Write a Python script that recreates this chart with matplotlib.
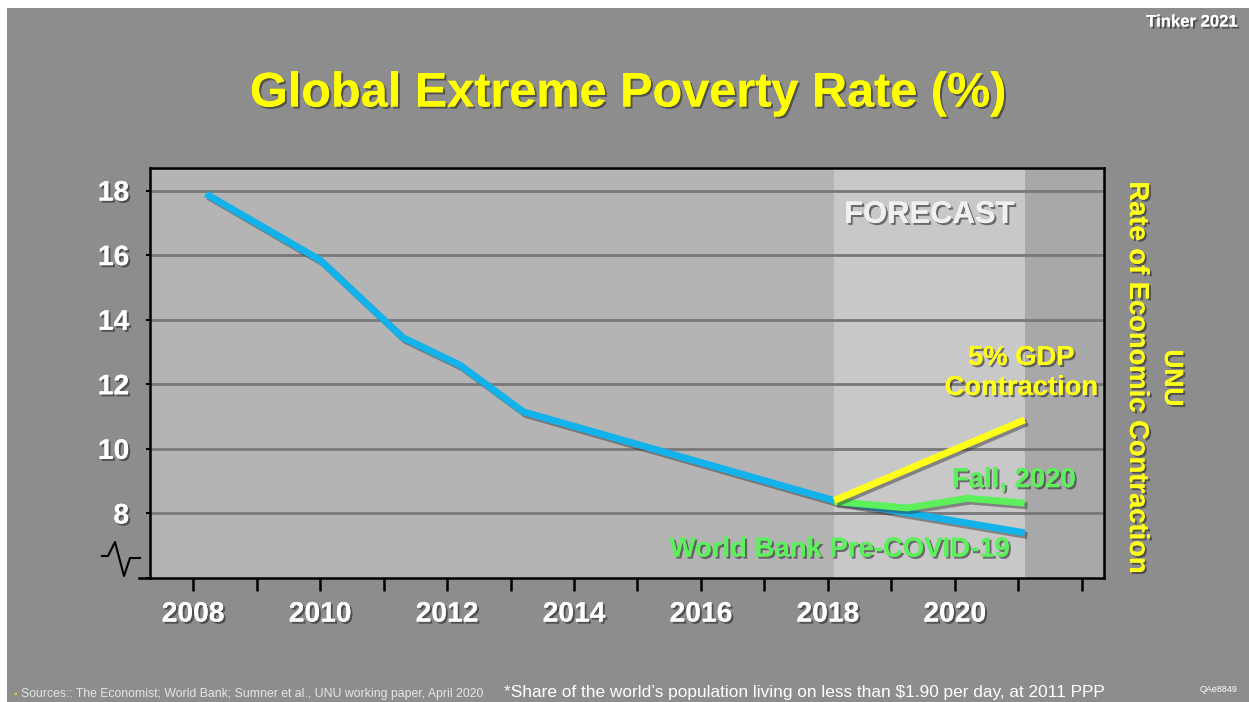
import matplotlib
matplotlib.use("Agg")
import matplotlib.pyplot as plt
import matplotlib.patheffects as pe
from matplotlib.patches import Rectangle

# ---- data ----
blue_years = [2008.2, 2010.0, 2011.3, 2012.2, 2013.2, 2018.1, 2021.1]
blue_vals = [17.9, 15.85, 13.45, 12.6, 11.15, 8.4, 7.4]
yellow_years = [2018.1, 2021.1]
yellow_vals = [8.4, 10.9]
green_years = [2018.1, 2019.25, 2020.2, 2021.1]
green_vals = [8.37, 8.17, 8.47, 8.32]
forecast_span = [2018.1, 2021.1]
xtick_labels = [2008, 2010, 2012, 2014, 2016, 2018, 2020]
ytick_labels = [8, 10, 12, 14, 16, 18]

W, H = 1249, 702
plt.rcParams['font.family'] = ['Liberation Sans', 'DejaVu Sans']
fig = plt.figure(figsize=(W / 100, H / 100), dpi=100, facecolor='white')

def fx(px):
    return px / W

def fy(py):
    return 1 - py / H

# slide background
fig.patches.append(Rectangle((fx(7), 0), 1 - fx(7), fy(8), transform=fig.transFigure,
                             facecolor='#8d8d8d', edgecolor='none', zorder=-10))

shadow_txt = [pe.withSimplePatchShadow(offset=(1.5, -1.5), shadow_rgbFace='#202020', alpha=0.55), pe.Normal()]
line_shadow = [pe.SimpleLineShadow(offset=(2, -2), shadow_color='#303030', alpha=0.45), pe.Normal()]

ax = fig.add_axes([fx(150), fy(578), fx(1104) - fx(150), fy(168) - fy(578)])
ax.set_zorder(1)
ax.set_facecolor('#b4b4b4')
ax.set_xlim(2007.32, 2022.35)
ax.set_ylim(6.0, 18.7)

ax.axvspan(forecast_span[0], forecast_span[1], color='#c8c8c8', zorder=0.5, lw=0)
ax.axvspan(forecast_span[1], 2022.35, color='#a8a8a8', zorder=0.5, lw=0)

for y in ytick_labels:
    ax.axhline(y, color='#787878', lw=2, zorder=1)

ax.plot(blue_years, blue_vals, color='#14b2ea', lw=5, solid_capstyle='butt',
        solid_joinstyle='round', path_effects=line_shadow, zorder=3)
ax.plot(green_years, green_vals, color='#5cf05c', lw=5, solid_capstyle='butt',
        solid_joinstyle='round', path_effects=line_shadow, zorder=4)
ax.plot(yellow_years, yellow_vals, color='#ffff1a', lw=5, solid_capstyle='butt',
        solid_joinstyle='round', path_effects=line_shadow, zorder=5)

for s in ax.spines.values():
    s.set_color('black')
    s.set_linewidth(1.8)

ax.set_xticks(list(range(2008, 2023)))
ax.set_xticklabels([str(y) if y in xtick_labels else '' for y in range(2008, 2023)])
ax.set_yticks([6] + ytick_labels)
ax.set_yticklabels([''] + [str(v) for v in ytick_labels])
ax.tick_params(axis='x', direction='out', length=9, width=1.8, color='black', pad=8,
               labelsize=20.3, labelcolor='white')
ax.tick_params(axis='y', direction='out', length=3, width=1.5, color='black', pad=12,
               labelsize=20.3, labelcolor='white')
for lab in ax.get_xticklabels() + ax.get_yticklabels():
    lab.set_fontweight('bold')
    lab.set_path_effects(shadow_txt)

# axis break zigzag and bottom tick
fig.add_artist(plt.Line2D([fx(102), fx(108), fx(115), fx(124), fx(130), fx(140)],
                          [fy(556), fy(556), fy(542), fy(576), fy(558), fy(558)],
                          color='black', lw=1.5, transform=fig.transFigure))
fig.add_artist(plt.Line2D([fx(139), fx(150)], [fy(578), fy(578)],
                          color='black', lw=1.8, transform=fig.transFigure))

# annotations
ax.text(2019.6, 17.25, 'FORECAST', color='#f0f0f0', fontsize=22.3, fontweight='bold',
        ha='center', va='center', path_effects=shadow_txt, zorder=6)
ax.text(2021.05, 12.35, '5% GDP\nContraction', color='#ffff1a', fontsize=19.7, fontweight='bold',
        ha='center', va='center', multialignment='center', linespacing=1.2,
        path_effects=shadow_txt, zorder=6)
ax.text(2020.93, 9.03, 'Fall, 2020', color='#5cf05c', fontsize=19.8, fontweight='bold',
        ha='center', va='center', path_effects=shadow_txt, zorder=6)
ax.text(2018.19, 6.88, 'World Bank Pre-COVID-19', color='#5cf05c', fontsize=19.8, fontweight='bold',
        ha='center', va='center', path_effects=shadow_txt, zorder=6)

# title and slide texts
fig.text(fx(628), fy(94), 'Global Extreme Poverty Rate (%)', color='#ffff00', fontsize=35,
         fontweight='bold', ha='center', va='center', path_effects=shadow_txt)
fig.text(fx(1137), fy(378), 'Rate of Economic Contraction', color='#ffff1a', fontsize=19.7,
         fontweight='bold', ha='center', va='center', rotation=-90, path_effects=shadow_txt)
fig.text(fx(1172), fy(378), 'UNU', color='#ffff1a', fontsize=19,
         fontweight='bold', ha='center', va='center', rotation=-90, path_effects=shadow_txt)
fig.text(fx(1237), fy(22), 'Tinker 2021', color='white', fontsize=12, fontweight='bold',
         ha='right', va='center', path_effects=shadow_txt)
fig.text(fx(1238), fy(690), 'QAe8849', color='white', fontsize=6.5,
         ha='right', va='center')
fig.text(fx(14), fy(694), '\u25aa', color='#e8c040', fontsize=7, ha='left', va='center')
fig.text(fx(21), fy(694), 'Sources:: The Economist; World Bank; Sumner et al., UNU working paper, April 2020',
         color='#e6e6e6', fontsize=8.8, ha='left', va='center')
fig.text(fx(504), fy(692), '*Share of the world\u2019s population living on less than $1.90 per day, at 2011 PPP',
         color='white', fontsize=12.45, ha='left', va='center')

fig.savefig('out.png', dpi=100, facecolor=fig.get_facecolor())
